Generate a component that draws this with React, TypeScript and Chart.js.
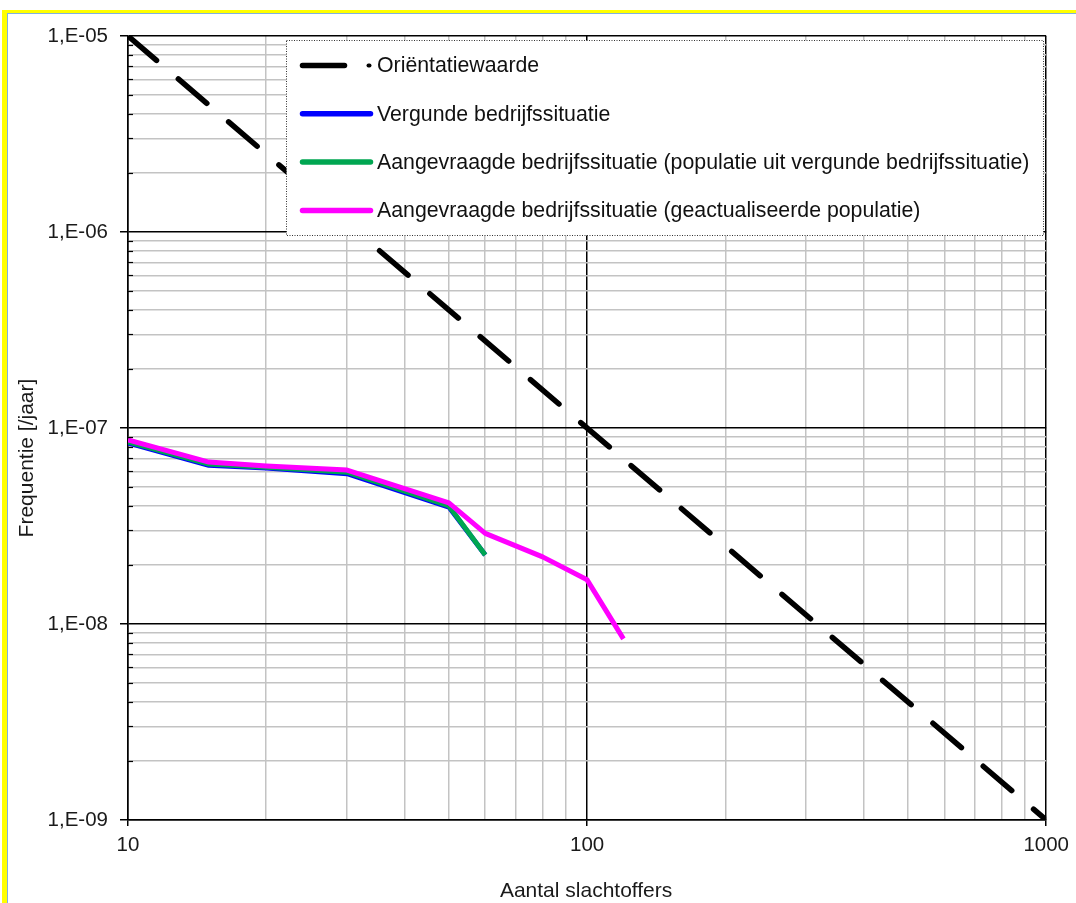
import React, { useEffect, useRef } from 'react';
import { Chart, registerables } from 'chart.js';

Chart.register(...registerables);

const FONT = '"Liberation Sans", Arial, Helvetica, sans-serif';

// ---- data ----
const orientatieN = [10, 1000];
const orientatieF = [1e-5, 1e-9];

const vergundN = [10, 15, 20, 30, 50, 60];
const vergundF = [8.4e-8, 6.45e-8, 6.25e-8, 5.85e-8, 3.95e-8, 2.25e-8];

const aangevraagdVergundN = [10, 15, 20, 30, 50, 60];
const aangevraagdVergundF = [8.5e-8, 6.55e-8, 6.3e-8, 5.95e-8, 4.0e-8, 2.25e-8];

const aangevraagdActueelN = [10, 15, 20, 30, 50, 60, 80, 100, 120];
const aangevraagdActueelF = [8.7e-8, 6.7e-8, 6.4e-8, 6.1e-8, 4.15e-8, 2.9e-8, 2.2e-8, 1.68e-8, 8.4e-9];

const seriesLabels = [
  'Oriëntatiewaarde',
  'Vergunde bedrijfssituatie',
  'Aangevraagde bedrijfssituatie (populatie uit vergunde bedrijfssituatie)',
  'Aangevraagde bedrijfssituatie (geactualiseerde populatie)',
];
const seriesColors = ['#000000', '#0000ff', '#00a651', '#ff00ff'];

// ---- axes ----
const xDecades = [10, 100, 1000];
const yDecades = [1e-9, 1e-8, 1e-7, 1e-6, 1e-5];
const mantissas = [1, 2, 3, 4, 5, 6, 7, 8, 9];
const xTitle = 'Aantal slachtoffers';
const yTitle = 'Frequentie [/jaar]';

function gridValues(decades: number[]) {
  const out: number[] = [];
  decades.forEach((d, i) => {
    if (i === decades.length - 1) out.push(d);
    else mantissas.forEach((m) => out.push(m * d));
  });
  return out;
}

function isDecade(v: number) {
  const l = Math.log10(v);
  return Math.abs(l - Math.round(l)) < 1e-6;
}

function yLabel(v: number) {
  const e = Math.round(Math.log10(v));
  const s = e < 0 ? '-' : '+';
  const a = Math.abs(e);
  return '1,E' + s + (a < 10 ? '0' + a : String(a));
}

function pts(xs: number[], ys: number[]) {
  return xs.map((x, i) => ({ x, y: ys[i] }));
}

const minorTickPlugin = {
  id: 'minorTicks',
  afterDatasetsDraw(chart: any) {
    const ctx = chart.ctx as CanvasRenderingContext2D;
    const ys = chart.scales.y;
    const area = chart.chartArea;
    ctx.save();
    ctx.strokeStyle = '#000000';
    ctx.lineWidth = 1.2;
    gridValues(yDecades).forEach((v) => {
      if (isDecade(v)) return;
      const p = Math.round(ys.getPixelForValue(v)) + 0.5;
      ctx.beginPath();
      ctx.moveTo(area.left, p);
      ctx.lineTo(area.left + 5, p);
      ctx.stroke();
    });
    ctx.restore();
  },
};

const legendPlugin = {
  id: 'customLegendTitles',
  afterDraw(chart: any) {
    const ctx = chart.ctx as CanvasRenderingContext2D;
    const area = chart.chartArea;
    // axis titles
    ctx.save();
    ctx.fillStyle = '#1a1a1a';
    ctx.font = `21px ${FONT}`;
    ctx.textAlign = 'center';
    ctx.textBaseline = 'alphabetic';
    ctx.fillText(xTitle, (area.left + area.right) / 2 - 1, 897);
    ctx.translate(33, 458);
    ctx.rotate(-Math.PI / 2);
    ctx.fillText(yTitle, 0, 0);
    ctx.restore();

    // legend box
    const bx = 286.5, by = 40.5, bw = 757, bh = 195;
    ctx.save();
    ctx.fillStyle = '#ffffff';
    ctx.fillRect(bx, by, bw, bh);
    ctx.strokeStyle = '#333333';
    ctx.lineWidth = 1;
    ctx.setLineDash([1, 1.5]);
    ctx.strokeRect(bx, by, bw, bh);
    ctx.restore();

    const datasets = chart.data.datasets;
    datasets.forEach((ds: any, i: number) => {
      const y = 65.5 + i * 48.3;
      ctx.save();
      ctx.strokeStyle = ds.borderColor;
      ctx.lineCap = 'round';
      if (ds.borderDash && ds.borderDash.length) {
        ctx.lineWidth = 5.5;
        ctx.beginPath();
        ctx.moveTo(302.5, y);
        ctx.lineTo(344.5, y);
        ctx.stroke();
        ctx.lineWidth = 4;
        ctx.beginPath();
        ctx.moveTo(368.5, y);
        ctx.lineTo(369.5, y);
        ctx.stroke();
      } else {
        ctx.lineWidth = 5.5;
        ctx.beginPath();
        ctx.moveTo(302.5, y);
        ctx.lineTo(370.5, y);
        ctx.stroke();
      }
      ctx.restore();
      ctx.save();
      ctx.fillStyle = '#111111';
      ctx.font = `21.3px ${FONT}`;
      ctx.textAlign = 'left';
      ctx.textBaseline = 'middle';
      ctx.fillText(ds.label, 377, y + 1);
      ctx.restore();
    });
  },
};

export default function App() {
  const ref = useRef<HTMLCanvasElement | null>(null);

  useEffect(() => {
    if (!ref.current) return;
    const xGrid = gridValues(xDecades);
    const yGrid = gridValues(yDecades);
    const gridColor = (c: any) => (c.tick && isDecade(c.tick.value) ? '#000000' : '#c3c3c3');
    const tickColor = (c: any) => (c.tick && isDecade(c.tick.value) ? '#000000' : 'rgba(0,0,0,0)');

    const chart = new Chart(ref.current, {
      type: 'line',
      data: {
        datasets: [
          {
            label: seriesLabels[0],
            data: pts(orientatieN, orientatieF),
            borderColor: seriesColors[0],
            backgroundColor: seriesColors[0],
            borderWidth: 5.5,
            borderDash: [37.5, 28.65],
            borderCapStyle: 'round',
            pointRadius: 0,
            order: 3,
          },
          {
            label: seriesLabels[1],
            data: pts(vergundN, vergundF),
            borderColor: seriesColors[1],
            backgroundColor: seriesColors[1],
            borderWidth: 5,
            borderJoinStyle: 'round',
            pointRadius: 0,
            order: 2,
          },
          {
            label: seriesLabels[2],
            data: pts(aangevraagdVergundN, aangevraagdVergundF),
            borderColor: seriesColors[2],
            backgroundColor: seriesColors[2],
            borderWidth: 5,
            borderJoinStyle: 'round',
            pointRadius: 0,
            order: 1,
          },
          {
            label: seriesLabels[3],
            data: pts(aangevraagdActueelN, aangevraagdActueelF),
            borderColor: seriesColors[3],
            backgroundColor: seriesColors[3],
            borderWidth: 5,
            borderJoinStyle: 'round',
            pointRadius: 0,
            order: 0,
          },
        ] as any,
      },
      options: {
        responsive: false,
        animation: false,
        devicePixelRatio: 1,
        layout: { padding: { left: 0, top: 36, right: 28, bottom: 0 } },
        plugins: { legend: { display: false }, tooltip: { enabled: false } },
        elements: { line: { tension: 0 } },
        scales: {
          x: {
            type: 'logarithmic',
            min: 10,
            max: 1000,
            afterBuildTicks: (s: any) => {
              s.ticks = xGrid.map((v) => ({ value: v }));
            },
            afterFit: (s: any) => {
              s.height = 83;
            },
            ticks: {
              autoSkip: false,
              maxRotation: 0,
              padding: 7,
              color: '#1a1a1a',
              font: { family: FONT, size: 20.5 },
              callback: (v: any) => (isDecade(Number(v)) ? String(Math.round(Number(v))) : ''),
            },
            grid: { color: gridColor, tickColor, lineWidth: 1.5, tickLength: 6 },
            border: { color: '#000000', width: 1.5 },
          },
          y: {
            type: 'logarithmic',
            min: 1e-9,
            max: 1e-5,
            afterBuildTicks: (s: any) => {
              s.ticks = yGrid.map((v) => ({ value: v }));
            },
            afterFit: (s: any) => {
              s.width = 128;
            },
            ticks: {
              autoSkip: false,
              padding: 12,
              color: '#1a1a1a',
              font: { family: FONT, size: 20.5 },
              callback: (v: any) => (isDecade(Number(v)) ? yLabel(Number(v)) : ''),
            },
            grid: { color: gridColor, tickColor, lineWidth: 1.5, tickLength: 8 },
            border: { color: '#000000', width: 1.5 },
          },
        },
      } as any,
      plugins: [minorTickPlugin, legendPlugin],
    });
    return () => chart.destroy();
  }, []);

  return (
    <div style={{ position: 'absolute', left: 0, top: 0, width: 1076, height: 903, background: '#ffffff', overflow: 'hidden' }}>
      <div
        style={{
          position: 'absolute',
          left: 2,
          top: 10,
          right: 0,
          bottom: 0,
          borderLeft: '5px solid #ffff00',
          borderTop: '3px solid #ffff00',
        }}
      >
        <div style={{ position: 'absolute', left: 0, top: 0, right: 0, bottom: 0, borderLeft: '1px solid #7fb0e0', borderTop: '1px solid #7fb0e0' }} />
      </div>
      <canvas ref={ref} width={1076} height={903} style={{ position: 'absolute', left: 0, top: 0, display: 'block' }} />
    </div>
  );
}
